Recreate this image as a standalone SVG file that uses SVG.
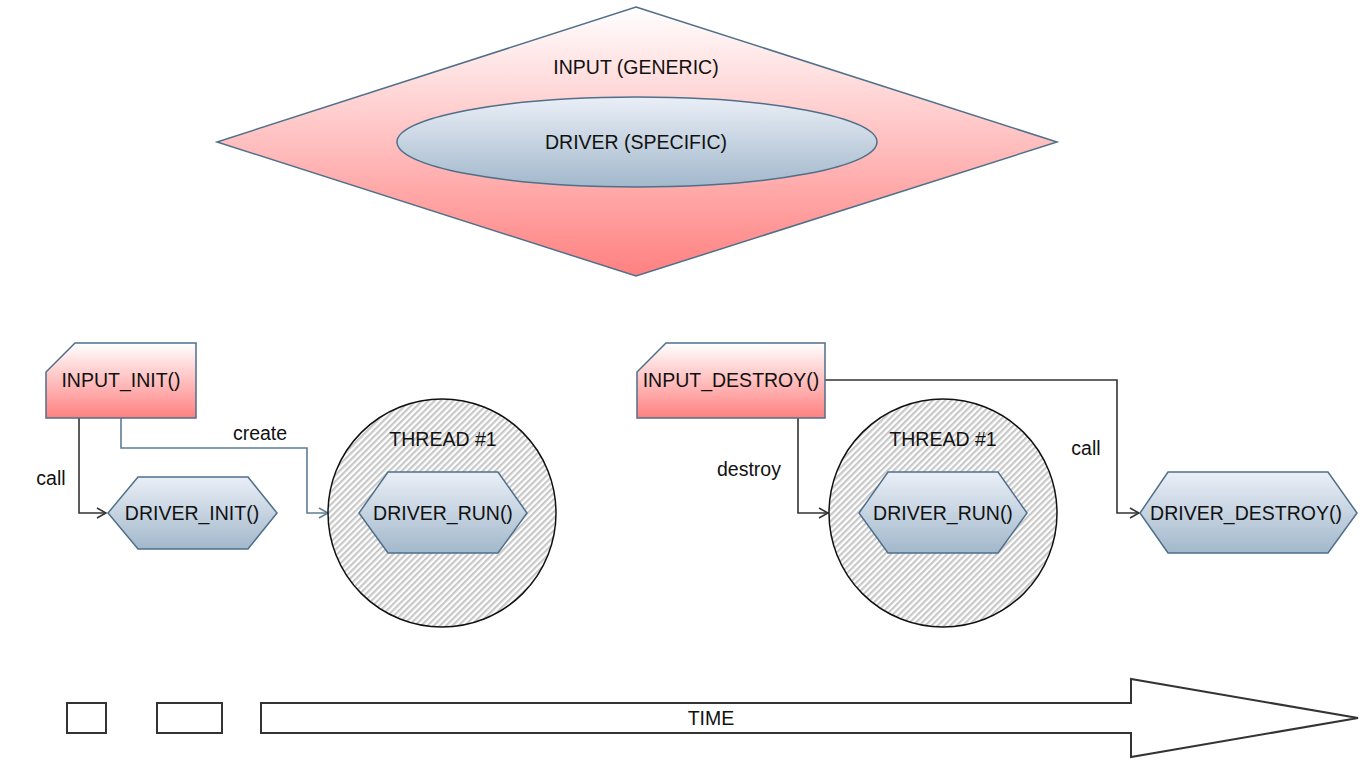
<svg xmlns="http://www.w3.org/2000/svg" width="1364" height="764" viewBox="0 0 1364 764">
<defs>
<linearGradient id="red" x1="0" y1="0" x2="0" y2="1">
<stop offset="0" stop-color="#ffffff"/>
<stop offset="1" stop-color="#ff8080"/>
</linearGradient>
<linearGradient id="blue" x1="0" y1="0" x2="0" y2="1">
<stop offset="0" stop-color="#eaeff7"/>
<stop offset="1" stop-color="#a2b8cb"/>
</linearGradient>
<pattern id="hatch" patternUnits="userSpaceOnUse" width="4.4" height="4.4" patternTransform="rotate(45)">
<rect width="4.4" height="4.4" fill="#ffffff"/>
<rect width="2.2" height="4.4" fill="#c8c8c8"/>
</pattern>
<marker id="arrDark" markerUnits="userSpaceOnUse" markerWidth="14" markerHeight="14" refX="11" refY="6" orient="auto">
<path d="M2,1 L11,6 L2,11" fill="none" stroke="#333333" stroke-width="1.5"/>
</marker>
<marker id="arrBlue" markerUnits="userSpaceOnUse" markerWidth="14" markerHeight="14" refX="11" refY="6" orient="auto">
<path d="M2,1 L11,6 L2,11" fill="none" stroke="#5f7d95" stroke-width="1.5"/>
</marker>
</defs>
<style>
text{font-family:"Liberation Sans",Arial,sans-serif;font-size:19.5px;fill:#111111;text-anchor:middle;dominant-baseline:central}
.shape{stroke:#4f6f8a;stroke-width:1.5}
.r{fill:url(#red)}
.b{fill:url(#blue)}
.dark{fill:none;stroke:#333333;stroke-width:1.6}
.slate{fill:none;stroke:#5f7d95;stroke-width:1.6}
.thread{fill:url(#hatch);stroke:#111111;stroke-width:1.5}
.plain{fill:#ffffff;stroke:#333333;stroke-width:2}
</style>
<rect width="1364" height="764" fill="#ffffff"/>

<g id="input-generic">
<polygon class="shape r" points="636,7 1057,142 636,276 217,142"/>
<text x="636" y="67">INPUT (GENERIC)</text>
</g>
<g id="driver-specific">
<ellipse class="shape b" cx="637" cy="142" rx="240" ry="45"/>
<text x="636" y="142">DRIVER (SPECIFIC)</text>
</g>

<g id="connectors">
<polyline class="dark" points="79,418 79,513 106,513" marker-end="url(#arrDark)"/>
<polyline class="slate" points="121,418 121,448 307,448 307,513 328,513" marker-end="url(#arrBlue)"/>
<polyline class="dark" points="798,418 798,513 828,513" marker-end="url(#arrDark)"/>
<polyline class="dark" points="825,380 1117,380 1117,513 1139,513" marker-end="url(#arrDark)"/>
<text x="51" y="478">call</text>
<text x="260" y="433">create</text>
<text x="749" y="469">destroy</text>
<text x="1086" y="448">call</text>
</g>

<g id="input-init">
<polygon class="shape r" points="75,343 196,343 196,418 46,418 46,372"/>
<text x="121" y="380">INPUT_INIT()</text>
</g>
<g id="driver-init">
<polygon class="shape b" points="108,513 138,477 248,477 277,513 248,549 138,549"/>
<text x="192" y="513">DRIVER_INIT()</text>
</g>
<g id="thread-1">
<circle class="thread" cx="442" cy="513" r="114"/>
<text x="443" y="439">THREAD #1</text>
</g>
<g id="driver-run-1">
<polygon class="shape b" points="359,513 388,472 498,472 527,513 498,553 388,553"/>
<text x="443" y="513">DRIVER_RUN()</text>
</g>

<g id="input-destroy">
<polygon class="shape r" points="666,343 825,343 825,418 637,418 637,372"/>
<text x="731" y="380">INPUT_DESTROY()</text>
</g>
<g id="thread-2">
<circle class="thread" cx="943" cy="513" r="114"/>
<text x="943" y="439">THREAD #1</text>
</g>
<g id="driver-run-2">
<polygon class="shape b" points="859,513 888,472 998,472 1027,513 998,553 888,553"/>
<text x="943" y="513">DRIVER_RUN()</text>
</g>
<g id="driver-destroy">
<polygon class="shape b" points="1140,513 1168,472 1328,472 1357,513 1328,553 1168,553"/>
<text x="1246" y="513">DRIVER_DESTROY()</text>
</g>

<g id="legend-box-1">
<rect class="plain" x="67" y="703" width="39" height="30"/>
</g>
<g id="legend-box-2">
<rect class="plain" x="157" y="703" width="65" height="30"/>
</g>
<g id="time-arrow">
<polygon class="plain" points="261,703 1131,703 1131,679 1358,718 1131,757 1131,733 261,733"/>
<text x="711" y="718">TIME</text>
</g>
</svg>
